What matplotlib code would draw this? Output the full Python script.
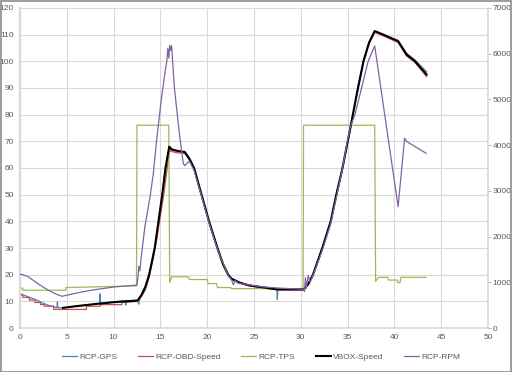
import matplotlib
matplotlib.use("Agg")
import matplotlib.pyplot as plt
from matplotlib.patches import Rectangle

plt.rcParams['font.family'] = ['Liberation Sans', 'DejaVu Sans']

# VBOX reference speed
vbox_time = [4.6, 6.0, 8.0, 10.0, 12.5, 12.6, 13.0, 13.4, 13.8, 14.1, 14.4, 14.8, 15.2, 15.55,
             15.95, 16.2, 16.6, 17.0, 17.6, 18.1, 18.6, 19.4, 20.2, 21.1, 21.7, 22.25, 22.6,
             23.5, 24.5, 25.5, 26.5, 27.5, 28.5, 29.5, 30.3, 30.8, 31.3, 32.3, 33.2, 33.8,
             34.4, 34.85, 35.3, 36.0, 36.7, 37.3, 37.9, 38.8, 40.4, 41.3, 42.2, 43.45]
vbox_speed = [7.6, 8.2, 9.0, 9.7, 10.3, 10.5, 12.5, 15.5, 20, 25, 30, 40, 50, 60,
              68, 67, 66.6, 66.3, 66, 63.5, 60, 50, 40, 30, 24, 20, 18.5,
              17, 16, 15.5, 15, 14.5, 14.5, 14.5, 14.5, 16.5, 20, 30, 40, 50,
              59, 67, 75, 88, 100, 107, 111.3, 110, 107.5, 102.5, 100, 95]

# gps speed from the race capture unit
gps_time = [0, 0.8, 1.6, 2.3, 3.0, 3.6, 3.95, 4.0, 4.05, 4.6, 6.0, 8.0, 8.5, 8.55, 8.6, 10.0,
            11.25, 11.3, 11.35, 12.5, 12.7, 12.8, 13.0, 13.4, 13.8, 14.1, 14.4, 14.8, 15.2,
            15.55, 15.95, 16.2, 16.6, 17.0, 17.6, 18.1, 18.6, 19.4, 20.2, 21.1, 21.7, 22.25,
            22.6, 23.5, 24.5, 25.5, 26.5, 27.45, 27.5, 27.55, 28.5, 29.5, 30.3, 30.8, 31.3,
            32.3, 33.2, 33.8, 34.4, 34.85, 35.3, 36.0, 36.7, 37.3, 37.9, 38.8, 40.4, 41.3,
            42.2, 43.45]
gps_speed = [13, 11.8, 10.8, 9.6, 8.6, 8.0, 7.7, 9.8, 7.7, 7.5, 8.3, 9.0, 9.2, 12.8, 9.2, 9.8,
             10.3, 8.6, 10.3, 10.4, 9.0, 11, 12.8, 15.6, 20.2, 25, 30.2, 40, 50.2,
             60, 67.8, 66.8, 66.4, 66.2, 65.8, 63.5, 60, 50, 40.2, 30, 24, 20,
             18.6, 17, 16, 15.4, 15, 14.5, 10.8, 14.5, 14.4, 14.4, 14.4, 16.6, 20,
             30, 40, 50, 59, 67, 75, 88, 100, 107, 111, 109.8, 107.8, 103,
             100.5, 96]

# obd speed, integer steps at low speed
obd_time = [0, 0.3, 0.3, 1.0, 1.0, 1.6, 1.6, 2.2, 2.2, 2.6, 2.6, 3.6, 3.6, 7.1, 7.1, 8.6, 8.6,
            10.9, 10.9, 12.5, 12.9, 13.4, 13.8, 14.2, 14.6, 15.0, 15.4, 15.8, 16.0, 16.2,
            16.6, 17.0, 17.6, 18.1, 18.6, 19.4, 20.2, 21.1, 21.7, 22.25, 22.6, 23.5, 24.5,
            25.5, 26.5, 27.5, 28.5, 29.5, 30.3, 30.8, 31.3, 32.3, 33.2, 33.8, 34.4, 34.85,
            35.3, 36.0, 36.7, 37.3, 37.9, 38.8, 40.4, 41.3, 42.2, 43.45]
obd_speed = [12.3, 12.3, 11.5, 11.5, 10.5, 10.5, 9.6, 9.6, 8.8, 8.8, 8.2, 8.2, 7.0, 7.0, 8.2, 8.2, 8.8,
             8.8, 9.6, 10.0, 11.5, 14.3, 19, 25.5, 33, 42, 51, 62, 66.5, 66.2,
             65.8, 65.6, 65.5, 63, 59.5, 49.5, 39.5, 29.5, 23.5, 19.5, 18.2, 16.8, 15.8,
             15.3, 14.8, 14.3, 14.3, 14.3, 14.3, 16.2, 19.5, 29.5, 39.5, 49.5, 58.5, 66.5,
             74.5, 87.5, 99.5, 106.5, 110.8, 109.5, 107, 102, 99.5, 94.2]

# throttle position
tps_time = [0, 0.3, 0.3, 4.9, 4.9, 12.45, 12.5, 15.9, 16.0, 16.2, 18.0, 18.1, 20.0, 20.1,
            21.0, 21.1, 22.5, 22.6, 30.25, 30.3, 37.9, 38.0, 38.3, 39.3, 39.4, 40.3, 40.4,
            40.6, 40.7, 43.4]
tps = [15, 15, 14.2, 14.2, 15.2, 15.8, 76, 76, 17, 19.2, 19.2, 18.2, 18.2, 16.7,
       16.7, 15.2, 15.2, 14.8, 14.8, 76, 76, 17.5, 19, 19, 18, 18, 17,
       17, 19, 19]

# engine rpm (secondary axis)
rpm_time = [0, 0.4, 0.9, 2.0, 3.0, 4.0, 4.5, 5.0, 6.6, 8.0, 10.1, 12.5, 12.6, 12.7, 12.8,
            13.0, 13.35, 13.9, 14.25, 14.6, 15.1, 15.5, 15.7, 15.8, 15.9, 16.0, 16.1, 16.2,
            16.5, 17.0, 17.45, 17.6, 18.1, 18.6, 19.4, 20.2, 21.1, 22.25, 22.6, 22.8, 23.0,
            23.3, 24.0, 26.0, 28.0, 30.3, 30.4, 30.5, 30.6, 30.8, 31.0, 31.3, 32.3, 33.2,
            33.8, 34.4, 34.85, 35.3, 35.8, 36.5, 37.2, 37.9, 40.4, 41.1, 41.3, 43.4]
rpm = [1180, 1160, 1120, 960, 830, 730, 695, 720, 790, 840, 900, 940, 1100, 1350, 1250,
       1630, 2220, 2870, 3380, 4110, 4990, 5600, 5850, 6120, 5900, 6180, 6070, 6170,
       5250, 4300, 3600, 3550, 3650, 3450, 2880, 2300, 1720, 1150, 1060, 950, 1040,
       980, 960, 900, 870, 850, 800, 1100, 870, 1150, 1000, 1150, 1700, 2280,
       2850, 3420, 3950, 4400, 4670, 5250, 5830, 6170, 2655, 4150, 4080, 3820]

fig = plt.figure(figsize=(5.12, 3.72), dpi=100)
ax = fig.add_axes([0.039, 0.118, 0.914, 0.861])
ax2 = ax.twinx()

ax.plot(gps_time, gps_speed, color='#4F81BD', lw=0.9, label='RCP-GPS')
ax.plot(obd_time, obd_speed, color='#C0504D', lw=0.9, label='RCP-OBD-Speed')
ax.plot(tps_time, tps, color='#9BBB59', lw=0.9, label='RCP-TPS')
ax.plot(vbox_time, vbox_speed, color='black', lw=1.5, label='VBOX-Speed')
ax2.plot(rpm_time, rpm, color='#8064A2', lw=0.9, label='RCP-RPM')

# axes limits and grid
ax.set_xlim(0, 50)
ax.set_ylim(0, 120)
ax2.set_ylim(0, 7000)
ax.set_xticks(range(0, 51, 5))
ax.set_yticks(range(0, 121, 10))
ax2.set_yticks(range(0, 7001, 1000))
ax.grid(True, color='#d9d9d9', lw=0.8)
ax.set_axisbelow(True)

for a in (ax, ax2):
    for side in a.spines:
        a.spines[side].set_visible(False)
ax.spines['left'].set_visible(True)
ax.spines['left'].set_color('#d9d9d9')
ax.spines['left'].set_linewidth(1.6)
ax.spines['bottom'].set_visible(True)
ax.spines['bottom'].set_color('#d9d9d9')
ax.spines['bottom'].set_linewidth(1.2)
ax2.spines['right'].set_visible(True)
ax2.spines['right'].set_color('#d9d9d9')
ax2.spines['right'].set_linewidth(1.2)

ax.tick_params(axis='both', labelsize=6, labelcolor='#595959', length=0, pad=4.5)
ax2.tick_params(axis='y', labelsize=6, labelcolor='#595959', length=2.5, color='#bfbfbf', pad=1)

# legend along the bottom
h1, l1 = ax.get_legend_handles_labels()
h2, l2 = ax2.get_legend_handles_labels()
leg = fig.legend(h1 + h2, l1 + l2, loc='center', bbox_to_anchor=(0.51, 0.041), ncol=5,
                 frameon=False, fontsize=6, handlelength=1.8, handletextpad=0.25,
                 columnspacing=2.5)
for t in leg.get_texts():
    t.set_color('#595959')

# chart border
fig.patches.append(Rectangle((0.001, 0.001), 0.997, 0.997, transform=fig.transFigure,
                             fill=False, edgecolor='#8c8c8c', lw=1.2))

plt.savefig('out.png', dpi=100)
